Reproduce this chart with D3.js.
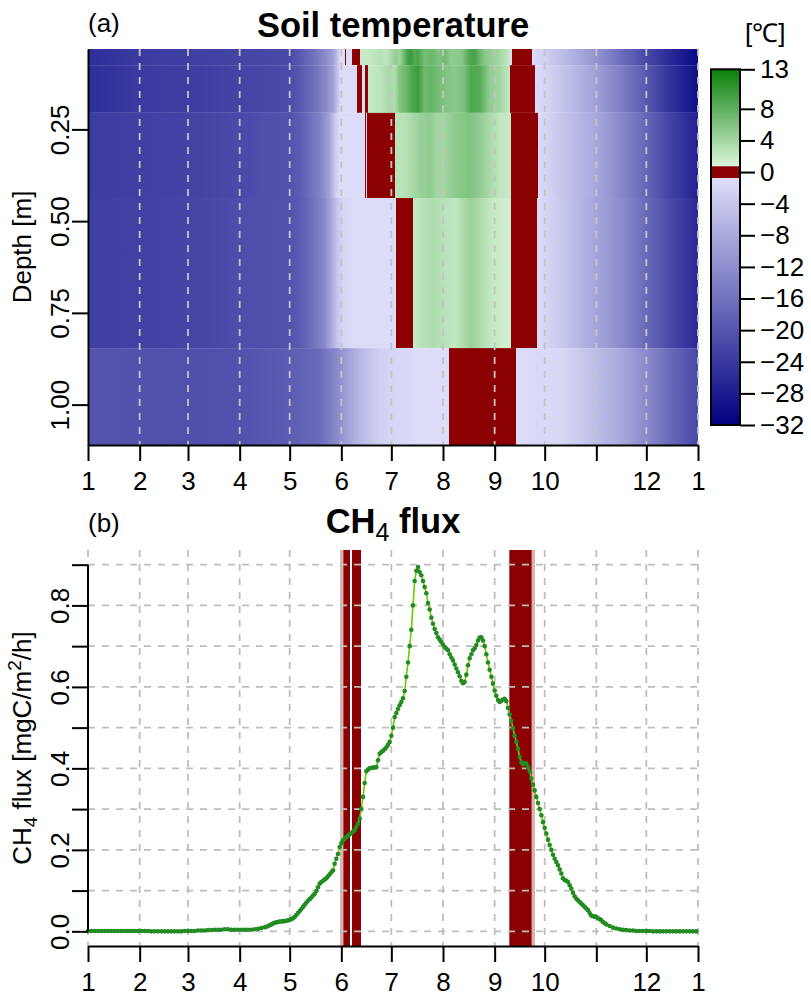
<!DOCTYPE html>
<html>
<head>
<meta charset="utf-8">
<script src="https://cdn.jsdelivr.net/npm/d3@7"></script>
<style>
body { margin: 0; background: #fff; }
text { font-family: "Liberation Sans", Arial, Helvetica, sans-serif; }
</style>
</head>
<body>
<script>
// ---- data ----
var monthStarts = [0, 31, 60, 91, 121, 152, 182, 213, 244, 274, 305, 335, 366];
var monthLabels = ["1", "2", "3", "4", "5", "6", "7", "8", "9", "10", "", "12", "1"];

var depthEdges = [0.031, 0.075, 0.205, 0.437, 0.846, 1.110];
var depthTicks = [0.25, 0.50, 0.75, 1.00];

// [day of year, soil temperature degC] per layer, top to bottom
var layer1Temp = [[0,-25.5],[31,-23.8],[67,-23],[91,-22.4],[121,-21.6],[127,-19.6],[135,-16.2],[142,-12.8],[147,-9.4],[150,-3.8],[151.2,-1],
  [151.6,-1],[151.6,0],[152.1,0],[152.1,-1],[152.8,-1],[152.8,0],[153.3,0],[153.3,-1],[154.2,-1],[154.2,0],[154.7,0],[154.7,-1],
  [155.7,-1],[155.7,0],[156.2,0],[156.2,-1],[157,-1],[157,0],[157.5,0],[157.5,-1],[158.6,-1],[158.6,0],[163.2,0],
  [163.2,1.9],[169,2.0],[175,3.0],[179,2.4],[182,3.7],[185,5.0],[187,4.2],[190,7.5],[192,9.5],[194,10.1],[196,8.5],[198,9.2],[202,6.5],
  [206,7.2],[211,6.0],[214,6.8],[218,5.1],[224,5.5],[227,7.5],[229,8.8],[232,9.3],[234,8.0],[237,6.0],[240,5.0],[246,4.2],[250,3.0],[253.2,1.9],
  [253.2,-1],[254.4,-1],[254.4,0],[266.2,0],
  [266.2,-1],[274,-2.7],[283,-4.9],[305,-11.1],[319,-16.2],[335,-21.8],[349,-26.1],[366,-30.6]];
var layer2Temp = [[0,-25.5],[31,-23.8],[67,-23.2],[91,-22.4],[121,-21.4],[127,-19.6],[135,-16.5],[142,-13],[147,-9.5],[150,-4],[151.5,-1],
  [161.6,-1],[161.6,0],[164.6,0],[164.6,-1],[166.2,-1],[166.2,0],[167.8,0],
  [167.8,1.9],[175,2.5],[181,3.7],[184,3.2],[187,6.0],[191,7.2],[194,8.8],[198,10.0],[202,7.0],[206,7.6],[211,6.5],[220,5.3],[226,6.5],[230,8.8],[235,8.5],
  [241,5.0],[247,4.0],[253.2,2.3],[253.2,0],[268.2,0],
  [268.2,-1],[274,-1.8],[283,-4],[305,-9.4],[319,-14],[335,-19.6],[349,-25],[366,-29.7]];
var layer3Temp = [[0,-23.5],[31,-23],[67,-22.4],[91,-21.6],[121,-20.4],[127,-19],[139,-14],[145,-9],[148,-3.8],[151,-1],
  [166.2,-1],[166.2,0],[166.7,0],[166.7,-1],[167.3,-1],[167.3,0],[184.2,0],
  [184.2,2.8],[190,2.8],[199,4.5],[205,5.1],[210,4.0],[214,4.2],[223,5.5],[229,6.0],[235,5.0],[241,3.7],[247,2.3],[253.8,1.9],
  [253.8,0],[270.2,0],
  [270.2,-1],[274,-2],[283,-3.8],[305,-8.3],[319,-12.5],[335,-17.6],[349,-22.5],[366,-27.5]];
var layer4Temp = [[0,-23],[31,-22.8],[67,-22.2],[91,-21.2],[121,-20.4],[130,-18.5],[142,-12.5],[150,-3.8],[154,-1.5],[160,-1],[184.8,-0.9],
  [184.8,0],[195.2,0],
  [195.2,1.9],[202,3.0],[208,3.25],[214,2.8],[220,2.3],[226,3.7],[230,4.6],[235,3.5],[241,2.3],[247,1.6],[253.6,1.4],
  [253.6,0],[269.2,0],
  [269.2,-1],[274,-2],[283,-3.5],[305,-8.7],[319,-12],[335,-17.1],[349,-21.5],[366,-26.1]];
var layer5Temp = [[0,-20.2],[31,-20.4],[67,-20.7],[91,-20.4],[121,-19],[139,-17.1],[151,-11.7],[163,-6],[175,-2.7],[187,-1.5],[199,-0.8],[216.6,-0.8],
  [216.6,0],[256.6,0],
  [256.6,-1],[283,-1.5],[295,-3.5],[305,-5.5],[319,-8],[335,-12.5],[349,-17],[366,-21.8]];
var soilLayers = [layer1Temp, layer2Temp, layer3Temp, layer4Temp, layer5Temp];

var colorbarTicks = [13, 8, 4, 0, -4, -8, -12, -16, -20, -24, -28, -32];
var colorbarStops = [13, 0.71, 0.7, -0.7, -0.71, -32];

// [day of year, CH4 flux mgC/m2/h]
var ch4Flux = [
  [0,0.001],[2,0.001],[4,0.001],[6,0.001],[8,0.001],[10,0.001],[12,0.001],[14,0.001],[16,0.001],[18,0.001],
  [20,0.001],[22,0.001],[24,0.001],[26,0.001],[28,0.001],[30,0.001],[32,0.001],[34,0.001],[36,0.001],[38,0.000],
  [40,0.000],[42,0.000],[44,0.000],[46,0.000],[48,0.000],[50,0.000],[52,0.000],[54,0.000],[56,0.000],[58,0.001],
  [60,0.001],[62,0.001],[64,0.001],[66,0.002],[68,0.002],[70,0.002],[72,0.003],[74,0.003],[76,0.004],[78,0.004],
  [80,0.004],[82,0.005],[84,0.005],[86,0.004],[88,0.004],[90,0.004],[92,0.004],[94,0.004],[96,0.004],[98,0.004],
  [100,0.005],[102,0.006],[104,0.008],[106,0.010],[107,0.011],[108,0.013],[109,0.015],[110,0.017],[111,0.019],[112,0.021],
  [113,0.022],[114,0.023],[115,0.024],[116,0.024],[117,0.025],[118,0.025],[119,0.026],[120,0.027],[121,0.028],[122,0.030],
  [123,0.032],[124,0.035],[125,0.040],[126,0.045],[127,0.050],[128,0.055],[129,0.060],[130,0.065],[131,0.070],[132,0.075],
  [133,0.079],[134,0.083],[135,0.088],[136,0.092],[137,0.099],[138,0.108],[139,0.117],[140,0.121],[141,0.124],[142,0.127],
  [143,0.130],[144,0.135],[145,0.140],[146,0.145],[147,0.150],[148,0.166],[149,0.178],[150,0.190],[151,0.207],[152,0.216],
  [153,0.223],[154,0.227],[155,0.231],[156,0.235],[157,0.238],[158,0.241],[159,0.245],[160,0.248],[161,0.256],[162,0.264],
  [163,0.277],[164,0.300],[165,0.330],[166,0.364],[167,0.393],[168,0.397],[169,0.400],[170,0.401],[171,0.402],[172,0.402],
  [173,0.403],[174,0.420],[175,0.436],[176,0.440],[177,0.443],[178,0.447],[179,0.452],[180,0.458],[181,0.465],[182,0.480],
  [183,0.500],[184,0.526],[185,0.536],[186,0.546],[187,0.555],[188,0.563],[189,0.572],[190,0.590],[191,0.625],[192,0.660],
  [193,0.700],[194,0.740],[195,0.800],[196,0.860],[197,0.885],[198,0.894],[199,0.882],[200,0.874],[201,0.860],[202,0.845],
  [203,0.830],[204,0.806],[205,0.790],[206,0.770],[207,0.755],[208,0.742],[209,0.732],[210,0.722],[211,0.716],[212,0.710],
  [213,0.704],[214,0.698],[215,0.694],[216,0.690],[217,0.680],[218,0.672],[219,0.665],[220,0.655],[221,0.645],[222,0.636],
  [223,0.626],[224,0.615],[225,0.609],[226,0.612],[227,0.630],[228,0.653],[229,0.670],[230,0.680],[231,0.690],[232,0.695],
  [233,0.703],[234,0.714],[235,0.721],[236,0.722],[237,0.714],[238,0.700],[239,0.680],[240,0.660],[241,0.642],[242,0.625],
  [243,0.608],[244,0.591],[245,0.578],[246,0.568],[247,0.563],[248,0.566],[249,0.569],[250,0.571],[251,0.565],[252,0.548],
  [253,0.532],[254,0.516],[255,0.498],[256,0.480],[257,0.465],[258,0.448],[259,0.428],[260,0.415],[261,0.410],[262,0.413],
  [263,0.412],[264,0.403],[265,0.392],[266,0.375],[267,0.360],[268,0.346],[269,0.330],[270,0.315],[271,0.300],[272,0.285],
  [273,0.268],[274,0.254],[275,0.240],[276,0.225],[277,0.212],[278,0.200],[279,0.188],[280,0.178],[281,0.170],[282,0.162],
  [283,0.152],[284,0.142],[285,0.130],[286,0.126],[287,0.124],[288,0.121],[289,0.113],[290,0.105],[291,0.095],[292,0.086],
  [293,0.080],[294,0.076],[295,0.072],[296,0.068],[297,0.064],[298,0.060],[299,0.056],[300,0.052],[301,0.045],[302,0.039],
  [303,0.037],[304,0.036],[305,0.035],[306,0.032],[307,0.030],[308,0.027],[309,0.023],[310,0.020],[311,0.017],[313,0.013],
  [315,0.009],[317,0.007],[319,0.005],[321,0.004],[323,0.003],[325,0.002],[327,0.002],[329,0.001],[331,0.001],[333,0.001],
  [335,0.001],[337,0.001],[339,0.000],[341,0.000],[343,0.000],[345,0.000],[347,0.000],[349,0.000],[351,0.000],[353,0.000],
  [355,0.000],[357,0.000],[359,0.000],[361,0.000],[363,0.000],[365,0.000]
];
var fluxTicks = [0, 0.1, 0.2, 0.3, 0.4, 0.5, 0.6, 0.7, 0.8, 0.9];
var fluxTickLabels = ["0.0", "", "0.2", "", "0.4", "", "0.6", "", "0.8", ""];

// zero-curtain periods [start day, end day]
var zeroCurtain = [[153.2, 157.2], [158.4, 163.8], [252.8, 266.2]];
var zeroCurtainEdge = [[151.2, 153.2], [266.2, 268.2]];

// ---- setup ----
var svg = d3.select("body")
    .append("svg")
    .attr("width", 811)
    .attr("height", 997)
    .style("display", "block");

var left = 88, right = 698;
var topA = 49, bottomA = 445;
var topB = 550, bottomB = 946;
var tickFont = "26px";
var titleFont = "34.5px";

var x = d3.scaleLinear().domain([0, 366]).range([left, right]);
var yDepth = d3.scaleLinear().domain([depthEdges[0], depthEdges[depthEdges.length - 1]]).range([topA, bottomA]);
var yFlux = d3.scaleLinear().domain([-0.036, 0.936]).range([bottomB, topB]);
var cbScale = d3.scaleLinear().domain([-32, 13]).range([425, 69.3]);

var green = d3.scaleLinear().domain([0.7, 13]).range(["#dcf6dc", "#087f08"]);
var blue = d3.scaleLinear().domain([-32, -0.7]).range(["#000080", "#dedefa"]);
function tempColor(t) {
    if (t > 0.7) return green(t);
    if (t >= -0.7) return "#8b0000";
    return blue(t);
}

var defs = svg.append("defs");

// ---- panel (a): soil temperature ----
soilLayers.forEach(function (layer, i) {
    var grad = defs.append("linearGradient")
        .attr("id", "layer" + i)
        .attr("gradientUnits", "userSpaceOnUse")
        .attr("x1", x(0)).attr("x2", x(366))
        .attr("y1", 0).attr("y2", 0);
    grad.selectAll("stop")
        .data(layer)
        .enter()
        .append("stop")
        .attr("offset", function (d) { return (x(d[0]) - x(0)) / (x(366) - x(0)); })
        .attr("stop-color", function (d) { return tempColor(d[1]); });

    svg.append("rect")
        .attr("x", x(0))
        .attr("y", yDepth(depthEdges[i]))
        .attr("width", x(366) - x(0))
        .attr("height", yDepth(depthEdges[i + 1]) - yDepth(depthEdges[i]))
        .attr("fill", "url(#layer" + i + ")");
});

svg.append("g")
    .selectAll("line")
    .data(monthStarts.slice(1))
    .enter()
    .append("line")
    .attr("x1", function (d) { return x(d); })
    .attr("x2", function (d) { return x(d); })
    .attr("y1", topA)
    .attr("y2", bottomA)
    .attr("stroke", "#c4c4c4")
    .attr("stroke-width", 1.8)
    .attr("stroke-dasharray", "7,7");

var xAxisA = d3.axisBottom(x)
    .tickValues(monthStarts)
    .tickFormat(function (d, i) { return monthLabels[i]; })
    .tickSize(16)
    .tickSizeOuter(0)
    .tickPadding(11);

function styleAxis(g) {
    g.select(".domain").attr("stroke-width", 2);
    g.selectAll(".tick line").attr("stroke-width", 2);
    g.selectAll("text").style("font-size", tickFont).attr("fill", "#000");
}

svg.append("g")
    .attr("transform", "translate(0," + bottomA + ")")
    .call(xAxisA)
    .call(styleAxis);

var yAxisA = d3.axisLeft(yDepth)
    .tickValues(depthTicks)
    .tickFormat(d3.format(".2f"))
    .tickSize(16)
    .tickSizeOuter(0);

svg.append("g")
    .attr("transform", "translate(" + left + ",0)")
    .call(yAxisA)
    .call(styleAxis)
    .selectAll("text")
    .attr("x", null)
    .attr("dy", null)
    .attr("text-anchor", "middle")
    .attr("transform", "translate(-19,0) rotate(-90)");

svg.append("text")
    .attr("transform", "translate(31," + (topA + bottomA) / 2 + ") rotate(-90)")
    .attr("text-anchor", "middle")
    .style("font-size", tickFont)
    .text("Depth [m]");

svg.append("text")
    .attr("x", (left + right) / 2)
    .attr("y", 37)
    .attr("text-anchor", "middle")
    .style("font-size", titleFont)
    .style("font-weight", "bold")
    .text("Soil temperature");

svg.append("text")
    .attr("x", left)
    .attr("y", 32)
    .style("font-size", tickFont)
    .text("(a)");

// colorbar
var cbGrad = defs.append("linearGradient")
    .attr("id", "cbGrad")
    .attr("gradientUnits", "userSpaceOnUse")
    .attr("x1", 0).attr("x2", 0)
    .attr("y1", cbScale(13)).attr("y2", cbScale(-32));
cbGrad.selectAll("stop")
    .data(colorbarStops)
    .enter()
    .append("stop")
    .attr("offset", function (d) { return (cbScale(d) - cbScale(13)) / (cbScale(-32) - cbScale(13)); })
    .attr("stop-color", function (d) { return tempColor(d); });

svg.append("rect")
    .attr("x", 711)
    .attr("y", cbScale(13))
    .attr("width", 29)
    .attr("height", cbScale(-32) - cbScale(13))
    .attr("fill", "url(#cbGrad)")
    .attr("stroke", "#000")
    .attr("stroke-width", 2);

var cbAxis = d3.axisRight(cbScale)
    .tickValues(colorbarTicks)
    .tickFormat(d3.format("d"))
    .tickSize(15)
    .tickPadding(5);

svg.append("g")
    .attr("transform", "translate(740,0)")
    .call(cbAxis)
    .call(styleAxis)
    .call(function (g) { g.select(".domain").remove(); });

svg.append("text")
    .attr("x", 745)
    .attr("y", 42)
    .style("font-size", tickFont)
    .text("[\u2103]");

// ---- panel (b): CH4 flux ----
svg.append("g")
    .selectAll("rect")
    .data(zeroCurtainEdge)
    .enter()
    .append("rect")
    .attr("x", function (d) { return x(d[0]); })
    .attr("width", function (d) { return x(d[1]) - x(d[0]); })
    .attr("y", topB)
    .attr("height", bottomB - topB)
    .attr("fill", "#8b0000")
    .attr("opacity", 0.3);

svg.append("g")
    .selectAll("rect")
    .data(zeroCurtain)
    .enter()
    .append("rect")
    .attr("x", function (d) { return x(d[0]); })
    .attr("width", function (d) { return x(d[1]) - x(d[0]); })
    .attr("y", topB)
    .attr("height", bottomB - topB)
    .attr("fill", "#8b0000");

var grid = svg.append("g")
    .attr("stroke", "#bebebe")
    .attr("stroke-width", 1.8)
    .attr("stroke-dasharray", "7,7");

grid.selectAll(".vgrid")
    .data(monthStarts)
    .enter()
    .append("line")
    .attr("x1", function (d) { return x(d); })
    .attr("x2", function (d) { return x(d); })
    .attr("y1", topB)
    .attr("y2", bottomB);

grid.selectAll(".hgrid")
    .data(fluxTicks)
    .enter()
    .append("line")
    .attr("x1", left)
    .attr("x2", right)
    .attr("y1", function (d) { return yFlux(d); })
    .attr("y2", function (d) { return yFlux(d); });

var line = d3.line()
    .x(function (d) { return x(d[0]); })
    .y(function (d) { return yFlux(d[1]); });

svg.append("path")
    .datum(ch4Flux)
    .attr("d", line)
    .attr("fill", "none")
    .attr("stroke", "#6acd00")
    .attr("stroke-width", 1.6);

svg.append("g")
    .selectAll("circle")
    .data(ch4Flux)
    .enter()
    .append("circle")
    .attr("cx", function (d) { return x(d[0]); })
    .attr("cy", function (d) { return yFlux(d[1]); })
    .attr("r", 2.3)
    .attr("fill", "#228b22");

var xAxisB = d3.axisBottom(x)
    .tickValues(monthStarts)
    .tickFormat(function (d, i) { return monthLabels[i]; })
    .tickSize(16)
    .tickSizeOuter(0)
    .tickPadding(11);

svg.append("g")
    .attr("transform", "translate(0," + bottomB + ")")
    .call(xAxisB)
    .call(styleAxis);

var yAxisB = d3.axisLeft(yFlux)
    .tickValues(fluxTicks)
    .tickFormat(function (d, i) { return fluxTickLabels[i]; })
    .tickSize(16)
    .tickSizeOuter(0);

var yAxisBG = svg.append("g")
    .attr("transform", "translate(" + left + ",0)")
    .call(yAxisB)
    .call(styleAxis);
yAxisBG.select(".domain").remove();
yAxisBG.append("line")
    .attr("x1", 0).attr("x2", 0)
    .attr("y1", yFlux(fluxTicks[0]))
    .attr("y2", yFlux(fluxTicks[fluxTicks.length - 1]))
    .attr("stroke", "#000")
    .attr("stroke-width", 2);
yAxisBG.selectAll("text")
    .attr("x", null)
    .attr("dy", null)
    .attr("text-anchor", "middle")
    .attr("transform", "translate(-19,0) rotate(-90)");

var yLab = svg.append("text")
    .attr("transform", "translate(31," + (topB + bottomB) / 2 + ") rotate(-90)")
    .attr("text-anchor", "middle")
    .style("font-size", tickFont);
yLab.append("tspan").text("CH");
yLab.append("tspan").attr("dy", 6).style("font-size", "19px").text("4");
yLab.append("tspan").attr("dy", -6).text(" flux [mgC/m");
yLab.append("tspan").attr("dy", -10).style("font-size", "19px").text("2");
yLab.append("tspan").attr("dy", 10).text("/h]");

var titleB = svg.append("text")
    .attr("x", (left + right) / 2)
    .attr("y", 533)
    .attr("text-anchor", "middle")
    .style("font-size", titleFont)
    .style("font-weight", "bold");
titleB.append("tspan").text("CH");
titleB.append("tspan").attr("dy", 8).style("font-size", "25px").style("font-weight", "normal").text("4");
titleB.append("tspan").attr("dy", -8).text(" flux");

svg.append("text")
    .attr("x", left)
    .attr("y", 532)
    .style("font-size", tickFont)
    .text("(b)");
</script>
</body>
</html>
